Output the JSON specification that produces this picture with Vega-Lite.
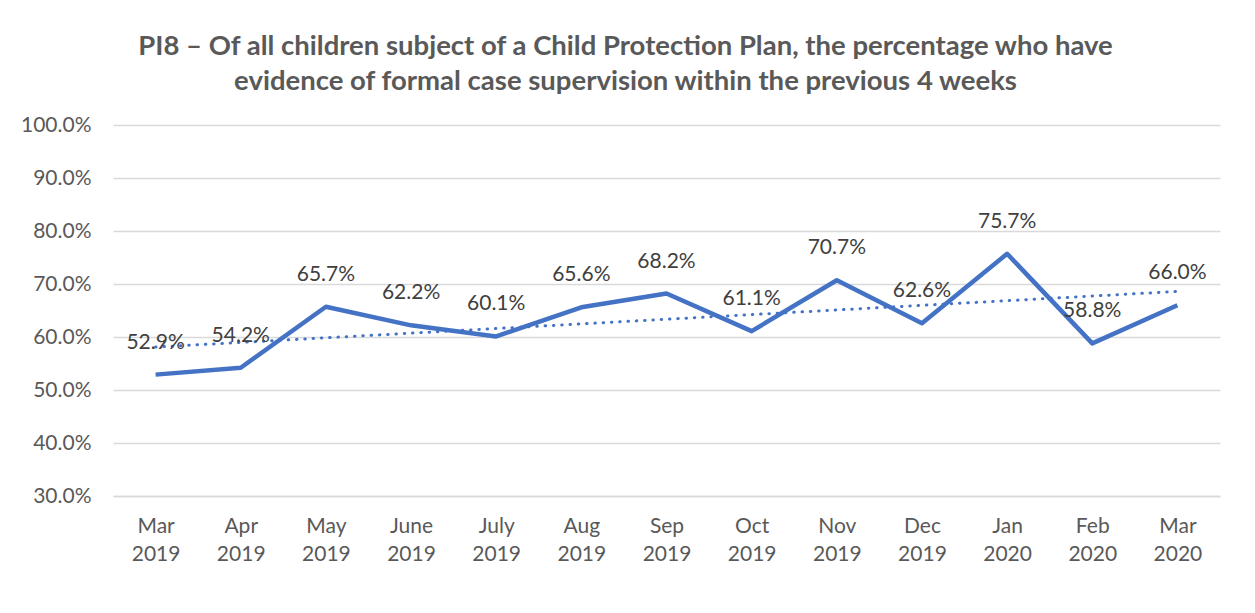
{
  "$schema": "https://vega.github.io/schema/vega-lite/v6.json",
  "autosize": {"type": "none"},
  "padding": {"left": 113, "top": 125, "right": 35, "bottom": 117},
  "width": 1107,
  "height": 371,
  "background": "white",
  "config": {
    "font": "Lato",
    "view": {"stroke": null}
  },
  "title": {
    "text": ["PI8 – Of all children subject of a Child Protection Plan, the percentage who have", "evidence of formal case supervision within the previous 4 weeks"],
    "fontSize": 27.5,
    "fontWeight": "bold",
    "color": "#595959",
    "lineHeight": 35,
    "anchor": "middle",
    "dx": -41,
    "offset": 19
  },
  "datasets": {
    "main": [
      {"month": "Mar 2019", "value": 0.529},
      {"month": "Apr 2019", "value": 0.542},
      {"month": "May 2019", "value": 0.657},
      {"month": "June 2019", "value": 0.622},
      {"month": "July 2019", "value": 0.601},
      {"month": "Aug 2019", "value": 0.656},
      {"month": "Sep 2019", "value": 0.682},
      {"month": "Oct 2019", "value": 0.611},
      {"month": "Nov 2019", "value": 0.707},
      {"month": "Dec 2019", "value": 0.626},
      {"month": "Jan 2020", "value": 0.757},
      {"month": "Feb 2020", "value": 0.588},
      {"month": "Mar 2020", "value": 0.660}
    ],
    "trend": [
      {"month": "Mar 2019", "trend": 0.581},
      {"month": "Mar 2020", "trend": 0.686}
    ]
  },
  "encoding": {
    "x": {
      "field": "month",
      "type": "ordinal",
      "sort": null,
      "scale": {"type": "point", "padding": 0.5, "domain": ["Mar 2019", "Apr 2019", "May 2019", "June 2019", "July 2019", "Aug 2019", "Sep 2019", "Oct 2019", "Nov 2019", "Dec 2019", "Jan 2020", "Feb 2020", "Mar 2020"]},
      "axis": {
        "title": null,
        "labelAngle": 0,
        "labelExpr": "split(datum.label, ' ')",
        "labelFontSize": 21,
        "labelColor": "#595959",
        "labelLineHeight": 28,
        "labelPadding": 19,
        "ticks": false,
        "domain": true,
        "domainColor": "#D9D9D9",
        "domainWidth": 1.5,
        "grid": false
      }
    }
  },
  "layer": [
    {
      "data": {"name": "main"},
      "mark": {"type": "line", "color": "#4472C4", "strokeWidth": 4.5, "strokeJoin": "round"},
      "encoding": {
        "y": {
          "field": "value",
          "type": "quantitative",
          "scale": {"domain": [0.3, 1.0], "nice": false, "zero": false},
          "axis": {
            "title": null,
            "values": [0.3, 0.4, 0.5, 0.6, 0.7, 0.8, 0.9, 1.0],
            "format": ".1%",
            "labelFontSize": 21,
            "labelColor": "#595959",
            "labelPadding": 22,
            "ticks": false,
            "domain": false,
            "gridColor": "#D9D9D9",
            "gridWidth": 1.5
          }
        }
      }
    },
    {
      "data": {"name": "trend"},
      "mark": {"type": "line", "color": "#4472C4", "strokeWidth": 3, "strokeDash": [0.5, 7.8], "strokeCap": "round"},
      "encoding": {
        "y": {"field": "trend", "type": "quantitative"}
      }
    },
    {
      "data": {"name": "main"},
      "mark": {"type": "text", "fontSize": 21, "color": "#404040", "baseline": "middle", "dy": -32},
      "encoding": {
        "y": {"field": "value", "type": "quantitative"},
        "text": {"field": "value", "type": "quantitative", "format": ".1%"}
      }
    }
  ]
}
